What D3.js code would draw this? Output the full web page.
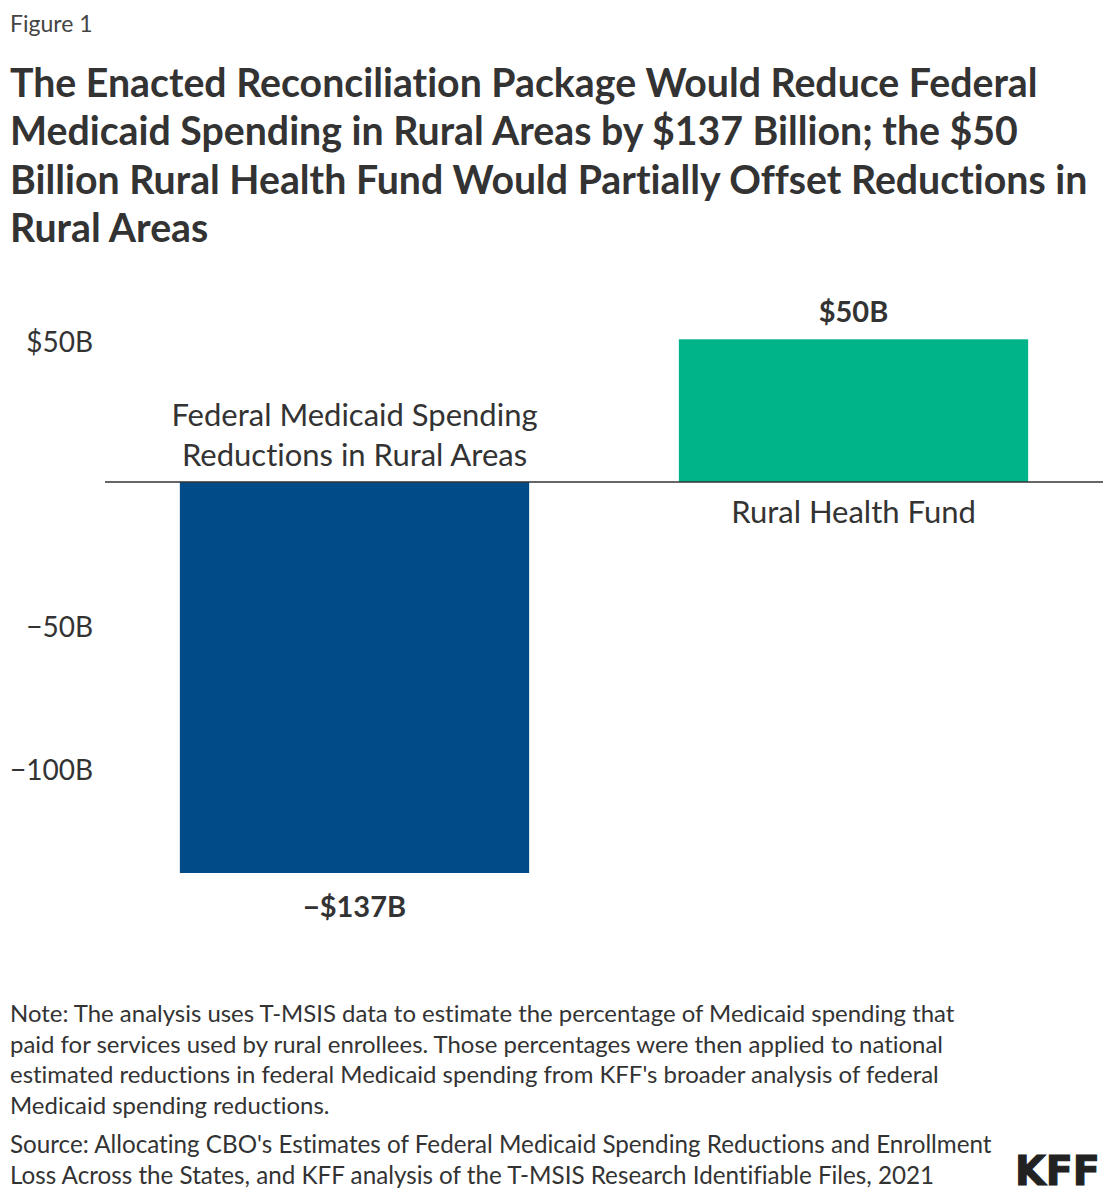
<!DOCTYPE html>
<html>
<head>
<meta charset="utf-8">
<script src="https://d3js.org/d3.v7.min.js"></script>
<style>
body { margin: 0; background: #fff; }
svg { font-family: Lato, "Open Sans", sans-serif; font-variant-ligatures: none; font-feature-settings: "liga" 0, "clig" 0; }
</style>
</head>
<body>
<script>
// chart data
var categories = ["Federal Medicaid Spending Reductions in Rural Areas", "Rural Health Fund"];
var categoryLines = [["Federal Medicaid Spending", "Reductions in Rural Areas"], ["Rural Health Fund"]];
var values = [-137, 50];
var valueLabels = ["\u2212$137B", "$50B"];
var barColors = ["#014b89", "#00b48a"];
var tickValues = [50, -50, -100];
var tickLabels = ["$50B", "\u221250B", "\u2212100B"];

var titleLines = [
  "The Enacted Reconciliation Package Would Reduce Federal",
  "Medicaid Spending in Rural Areas by $137 Billion; the $50",
  "Billion Rural Health Fund Would Partially Offset Reductions in",
  "Rural Areas"
];
var noteLines = [
  "Note: The analysis uses T-MSIS data to estimate the percentage of Medicaid spending that",
  "paid for services used by rural enrollees. Those percentages were then applied to national",
  "estimated reductions in federal Medicaid spending from KFF's broader analysis of federal",
  "Medicaid spending reductions."
];
var sourceLines = [
  "Source: Allocating CBO's Estimates of Federal Medicaid Spending Reductions and Enrollment",
  "Loss Across the States, and KFF analysis of the T-MSIS Research Identifiable Files, 2021"
];

var width = 1112, height = 1200;
var textColor = "#333";

var svg = d3.select("body").append("svg")
    .attr("width", width)
    .attr("height", height);

// scale a block of lines so its first line has the wanted width
function fitBlock(sel, target) {
  var w = sel.node().getComputedTextLength();
  var fs = parseFloat(sel.attr("font-size"));
  return fs * target / w;
}

function textBlock(lines, x, y0, lineH, size, weight, target) {
  var g = svg.append("g");
  var t = g.selectAll("text").data(lines).enter().append("text")
      .attr("x", x)
      .attr("y", function(d, i) { return y0 + i * lineH; })
      .attr("font-size", size)
      .attr("font-weight", weight)
      .attr("fill", textColor)
      .text(function(d) { return d; });
  if (target) {
    var fs = fitBlock(d3.select(t.nodes()[0]), target);
    t.attr("font-size", fs);
  }
  return t;
}

svg.append("text")
    .attr("x", 10).attr("y", 32)
    .attr("font-size", 23)
    .attr("fill", "#444")
    .text("Figure 1");

textBlock(titleLines, 10, 97, 48.3, 33, 700, 1028);
textBlock(noteLines, 10, 1022, 30.5, 21, 400, 945);
textBlock(sourceLines, 10, 1153, 30.5, 21, 400, 982);

// KFF logo
svg.append("text")
    .attr("x", 1015).attr("y", 1185)
    .attr("font-family", "'Liberation Sans Narrow', 'DejaVu Sans Condensed', sans-serif")
    .attr("font-size", 40)
    .attr("font-weight", 700)
    .attr("fill", "#222")
    .attr("stroke", "#222")
    .attr("stroke-width", 1)
    .attr("textLength", 85)
    .attr("lengthAdjust", "spacingAndGlyphs")
    .text("KFF");

// scales
var x = d3.scaleBand()
    .domain(categories)
    .range([105, 1103])
    .paddingInner(0.3)
    .paddingOuter(0.15);

var y = d3.scaleLinear()
    .domain([0, 50])
    .range([482, 339.3]);

// y axis, labels only
var yAxis = d3.axisLeft(y)
    .tickValues(tickValues)
    .tickSize(0)
    .tickPadding(0)
    .tickFormat(function(d, i) { return tickLabels[i]; });

var ag = svg.append("g")
    .attr("transform", "translate(93,3)")
    .call(yAxis);
ag.select(".domain").remove();
ag.selectAll("text")
    .attr("font-size", 28)
    .attr("font-family", "Lato, 'Open Sans', sans-serif")
    .attr("fill", textColor);

// bars
var data = categories.map(function(c, i) {
  return { cat: c, value: values[i], label: valueLabels[i], lines: categoryLines[i], color: barColors[i] };
});

svg.selectAll("rect.bar").data(data).enter().append("rect")
    .attr("class", "bar")
    .attr("x", function(d) { return x(d.cat); })
    .attr("width", x.bandwidth())
    .attr("y", function(d) { return Math.min(y(d.value), y(0)); })
    .attr("height", function(d) { return Math.abs(y(d.value) - y(0)); })
    .attr("fill", function(d) { return d.color; });

// zero line
svg.append("line")
    .attr("x1", 105).attr("x2", 1103)
    .attr("y1", y(0)).attr("y2", y(0))
    .attr("stroke", "#333")
    .attr("stroke-width", 1.5);

// value labels
svg.selectAll("text.val").data(data).enter().append("text")
    .attr("class", "val")
    .attr("x", function(d) { return x(d.cat) + x.bandwidth() / 2; })
    .attr("y", function(d) { return d.value < 0 ? y(d.value) + 44 : y(d.value) - 17; })
    .attr("text-anchor", "middle")
    .attr("font-size", 29)
    .attr("font-weight", 700)
    .attr("fill", textColor)
    .text(function(d) { return d.label; });

// category labels: above the zero line for negative bars, below for positive
var catSize = 31;
data.forEach(function(d) {
  var cx = x(d.cat) + x.bandwidth() / 2;
  var n = d.lines.length;
  d.lines.forEach(function(line, i) {
    var yy = d.value < 0 ? y(0) - 16 - (n - 1 - i) * 40 : y(0) + 41 + i * 40;
    svg.append("text")
        .attr("class", "cat")
        .attr("x", cx)
        .attr("y", yy)
        .attr("text-anchor", "middle")
        .attr("font-size", catSize)
        .attr("fill", textColor)
        .text(line);
  });
});
</script>
</body>
</html>
